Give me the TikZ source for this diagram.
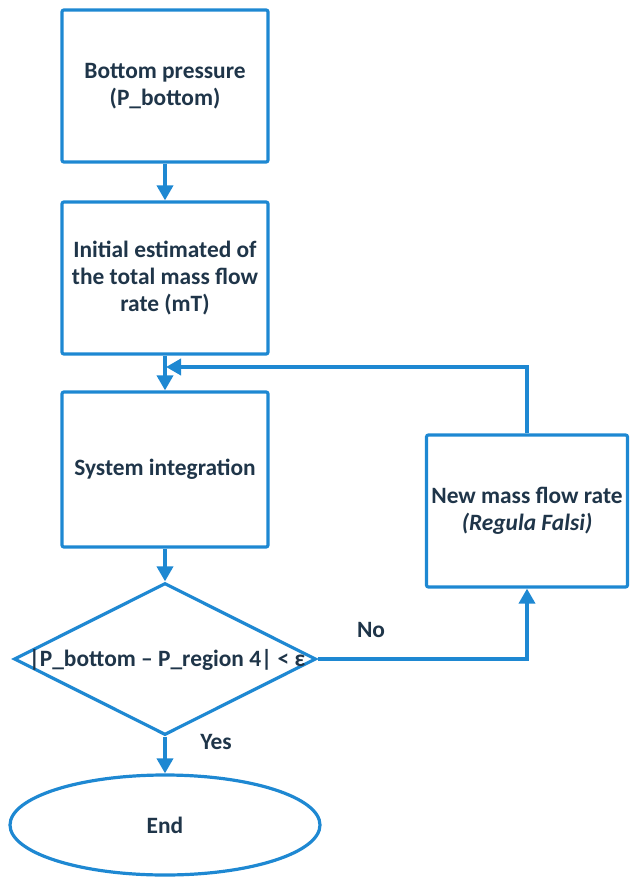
\documentclass[tikz,border=0pt]{standalone}
\usepackage{fontspec}
\setmainfont{Carlito}
\usetikzlibrary{shapes.geometric,arrows.meta}
\definecolor{lineblue}{HTML}{1E88D2}
\definecolor{txtdark}{HTML}{1F3549}
\tikzset{
  every node/.style={font=\fontsize{23.4}{27}\selectfont\bfseries, text=txtdark},
  procbox/.style={draw=lineblue, line width=3.2pt, rounded corners=2pt, minimum width=206pt, align=center, inner sep=0pt},
  arr/.style={draw=lineblue, line width=3.6pt, -{Triangle[width=16pt,length=15pt]}},
  lbl/.style={inner sep=0pt}
}
\begin{document}
\begin{tikzpicture}[x=1pt,y=-1pt]
\useasboundingbox (0,0) rectangle (629,877);
\node[procbox, minimum height=152pt] (b1) at (165,86) {Bottom pressure\\(P\_bottom)};
\node[procbox, minimum height=152pt] (b2) at (165,278) {Initial estimated of\\the total mass flow\\rate (mT)};
\node[procbox, minimum height=155pt] (b3) at (165,469.5) {System integration};
\node[procbox, minimum width=201pt, minimum height=152pt] (b4) at (527,511) {New mass flow rate\\\textit{(Regula Falsi)}};
\node[draw=lineblue, line width=3.2pt, diamond, minimum width=302pt, minimum height=152pt, inner sep=0pt] (dec) at (165,659) {};
\node[lbl] (dectext) at (167,660) {|P\_bottom – P\_region 4| < ε};
\node[draw=lineblue, line width=3.2pt, ellipse, minimum width=310pt, minimum height=100pt, inner sep=0pt] (end) at (165,825) {End};
\node[lbl] (no) at (371,630) {No};
\node[lbl] (yes) at (216,742) {Yes};
\coordinate (join) at (166,367);
\draw[arr] (b1.south) -- (b2.north);
\draw[arr] (b2.south) -- (b3.north);
\draw[arr] (b3.south) -- (dec.north);
\draw[arr] (dec.south) -- (end.north);
\draw[arr] (dec.east) -| (b4.south);
\draw[arr] (b4.north) |- (join);
\end{tikzpicture}
\end{document}
